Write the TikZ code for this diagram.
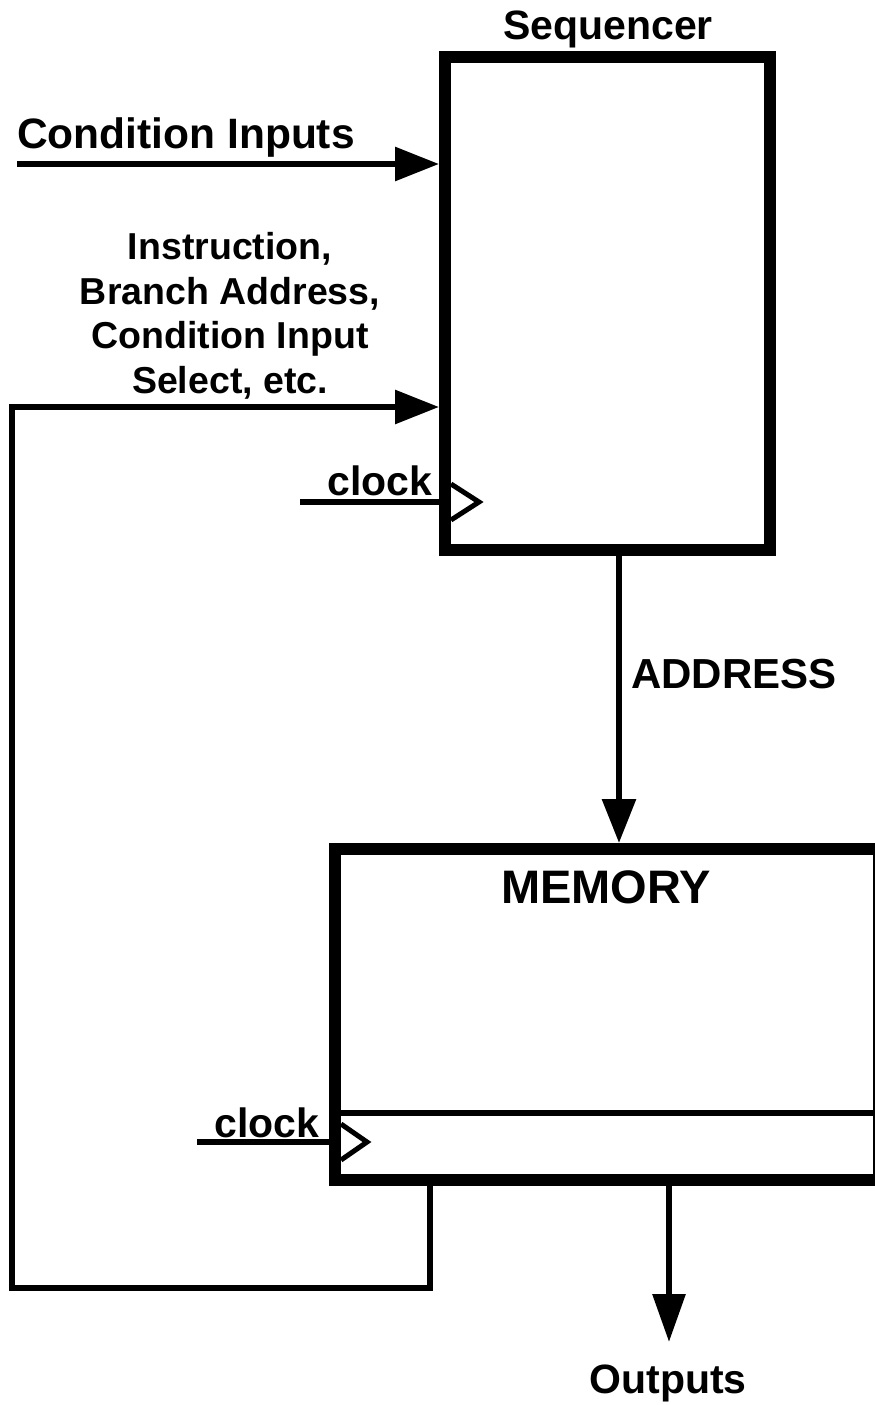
\documentclass[tikz,border=0pt]{standalone}
\usepackage{fontspec}
\setmainfont{Liberation Sans}
\usetikzlibrary{arrows.meta}
\tikzset{
  box/.style={draw=black, line width=12pt, rectangle, inner sep=0pt, fill=none},
  wire/.style={draw=black, line width=6pt, line join=miter},
  arr/.style={wire, -{Triangle[length=44pt,width=33pt]}},
  clk/.style={draw=black, line width=5pt, line join=miter},
  lbl/.style={inner sep=0pt, anchor=base, font=\bfseries\fontsize{41}{41}\selectfont},
  lblsmall/.style={lbl, font=\bfseries\fontsize{37.5}{37.5}\selectfont},
}
\begin{document}
\begin{tikzpicture}[x=1pt,y=1pt]
\useasboundingbox[fill=white] (0,0) rectangle (875,-1405);
% blocks
\node[box, minimum width=325pt, minimum height=493pt] (seq) at (607.5,-303.5) {};
\node[box, minimum width=544pt, minimum height=331pt] (mem) at (607,-1014.5) {};
\coordinate (divL) at (335,-1113);
\draw[wire] (divL) -- (divL -| mem.east);
% labels
\node[lbl] (seqlbl) at (608,-40) {Sequencer};
\node[lbl, anchor=base west, font=\bfseries\fontsize{42.5}{42.5}\selectfont] (cilbl) at (17,-148) {Condition Inputs};
\node[lblsmall] (ins1) at (230,-259) {Instruction,};
\node[lblsmall] (ins2) at (230,-304) {Branch Address,};
\node[lblsmall] (ins3) at (230,-348) {Condition Input};
\node[lblsmall] (ins4) at (230,-393) {Select, etc.};
\node[lbl] (ck1lbl) at (380,-495) {clock};
\node[lbl, anchor=base west, font=\bfseries\fontsize{42}{42}\selectfont] (addrlbl) at (631,-688) {ADDRESS};
\node[lbl, font=\bfseries\fontsize{47}{47}\selectfont] (memlbl) at (606,-903) {MEMORY};
\node[lbl] (ck2lbl) at (267,-1137) {clock};
\node[lbl] (outlbl) at (668,-1393) {Outputs};
% condition inputs
\coordinate (ci) at (17,-164);
\draw[arr] (ci) -- (ci -| seq.west);
% feedback loop
\coordinate (fbA) at (430,-1288);
\coordinate (fbB) at (12,-1288);
\coordinate (fbC) at (12,-407);
\draw[arr] (fbA |- mem.south) -- (fbA) -- (fbB) -- (fbC) -- (fbC -| seq.west);
% sequencer clock
\coordinate (ck1) at (300,-502);
\draw[wire] (ck1) -- (ck1 -| seq.west);
\draw[clk] (ck1 -| seq.west) ++(12,18) -- ++(28,-18) -- ++(-28,-18);
% address
\coordinate (ad) at (619,0);
\draw[arr] (ad |- seq.south) -- (ad |- mem.north);
% memory clock
\coordinate (ck2) at (197,-1142);
\draw[wire] (ck2) -- (ck2 -| mem.west);
\draw[clk] (ck2 -| mem.west) ++(12,18) -- ++(26,-18) -- ++(-26,-18);
% outputs
\coordinate (outtip) at (669,-1342);
\draw[wire, -{Triangle[length=48pt,width=32pt]}] (outtip |- mem.south) -- (outtip);
\end{tikzpicture}
\end{document}
